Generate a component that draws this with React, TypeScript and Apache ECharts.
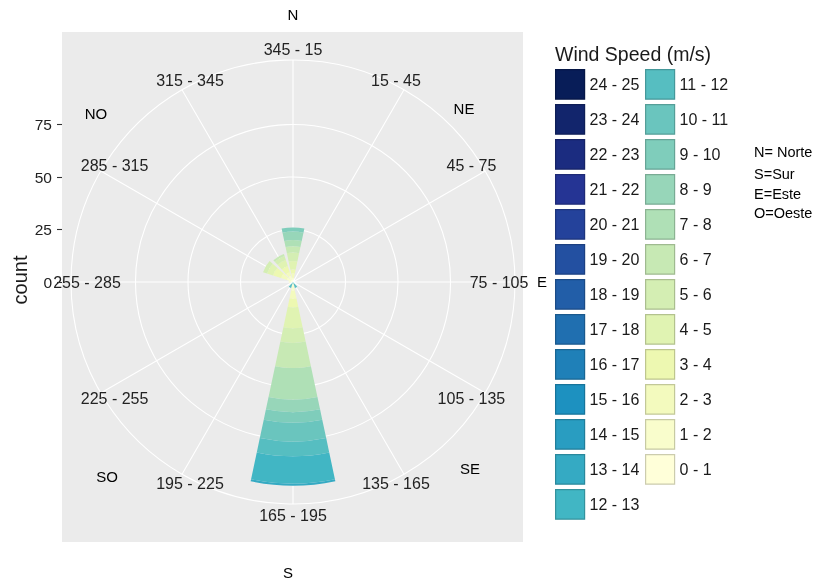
import React, { useEffect, useRef } from "react";
import * as echarts from "echarts";

// Direction sectors (theta categories), clockwise from North
const sectors = [
  "345 - 15", "15 - 45", "45 - 75", "75 - 105", "105 - 135", "135 - 165",
  "165 - 195", "195 - 225", "225 - 255", "255 - 285", "285 - 315", "315 - 345",
];

// Wind speed bins (m/s)
const speedBins = [
  "0 - 1", "1 - 2", "2 - 3", "3 - 4", "4 - 5", "5 - 6", "6 - 7", "7 - 8", "8 - 9",
  "9 - 10", "10 - 11", "11 - 12", "12 - 13", "13 - 14", "14 - 15", "15 - 16",
  "16 - 17", "17 - 18", "18 - 19", "19 - 20", "20 - 21", "21 - 22", "22 - 23",
  "23 - 24", "24 - 25",
];

// Counts per sector for each speed bin (order follows `sectors`)
const s0_1 = [1, 0, 0, 0, 0, 0, 1, 0, 0, 1, 1, 1];
const s1_2 = [1, 0, 0, 0, 0, 0, 3, 0, 0, 1, 2, 2];
const s2_3 = [2, 0, 0, 0, 0, 0, 4, 0, 0, 0, 3, 2];
const s3_4 = [2, 0, 0, 0, 0, 0, 4, 0, 0, 0, 4, 3];
const s4_5 = [4, 0, 0, 0, 0, 0, 10, 0, 0, 0, 3, 3];
const s5_6 = [4, 0, 0, 0, 0, 0, 7, 0, 0, 0, 2, 2];
const s6_7 = [3, 0, 0, 0, 0, 0, 12, 0, 0, 0, 0, 1];
const s7_8 = [3, 0, 0, 0, 0, 0, 15, 0, 0, 0, 0, 0];
const s8_9 = [4, 0, 0, 0, 0, 0, 6, 0, 0, 0, 0, 0];
const s9_10 = [2, 0, 0, 0, 0, 0, 5, 0, 0, 0, 0, 0];
const s10_11 = [0, 0, 0, 0, 0, 0, 9, 0, 0, 0, 0, 0];
const s11_12 = [0, 0, 0, 0, 0, 3, 7, 3, 0, 0, 0, 0];
const s12_13 = [0, 0, 0, 0, 0, 0, 13, 0, 0, 0, 0, 0];
const s13_14 = [0, 0, 0, 0, 0, 0, 1, 0, 0, 0, 0, 0];
const s14_15 = [0, 0, 0, 0, 0, 0, 0, 0, 0, 0, 0, 0];
const s15_16 = [0, 0, 0, 0, 0, 0, 0, 0, 0, 0, 0, 0];
const s16_17 = [0, 0, 0, 0, 0, 0, 0, 0, 0, 0, 0, 0];
const s17_18 = [0, 0, 0, 0, 0, 0, 0, 0, 0, 0, 0, 0];
const s18_19 = [0, 0, 0, 0, 0, 0, 0, 0, 0, 0, 0, 0];
const s19_20 = [0, 0, 0, 0, 0, 0, 0, 0, 0, 0, 0, 0];
const s20_21 = [0, 0, 0, 0, 0, 0, 0, 0, 0, 0, 0, 0];
const s21_22 = [0, 0, 0, 0, 0, 0, 0, 0, 0, 0, 0, 0];
const s22_23 = [0, 0, 0, 0, 0, 0, 0, 0, 0, 0, 0, 0];
const s23_24 = [0, 0, 0, 0, 0, 0, 0, 0, 0, 0, 0, 0];
const s24_25 = [0, 0, 0, 0, 0, 0, 0, 0, 0, 0, 0, 0];

const countsBySpeed = [
  s0_1, s1_2, s2_3, s3_4, s4_5, s5_6, s6_7, s7_8, s8_9, s9_10, s10_11, s11_12,
  s12_13, s13_14, s14_15, s15_16, s16_17, s17_18, s18_19, s19_20, s20_21,
  s21_22, s22_23, s23_24, s24_25,
];

// Radial axis ticks
const radialTicks = [0, 25, 50, 75];

// Legend notes
const notes = ["N= Norte", "S=Sur", "E=Este", "O=Oeste"];

// YlGnBu ramp, 25 steps
const palette = [
  "#FFFFD9", "#F9FDCC", "#F3FABE", "#EDF8B1", "#E0F3B2", "#D4EEB3", "#C7E9B4",
  "#AFE0B6", "#97D6B9", "#7FCDBB", "#6AC5BE", "#56BEC1", "#41B6C4", "#35AAC3",
  "#299DC1", "#1D91C0", "#1F80B8", "#206FB0", "#225EA8", "#2350A1", "#24429B",
  "#253494", "#1B2C80", "#12256C", "#081D58",
];

function shade(hex: string, f: number) {
  const n = parseInt(hex.slice(1), 16);
  const r = Math.round(((n >> 16) & 255) * f);
  const g = Math.round(((n >> 8) & 255) * f);
  const b = Math.round((n & 255) * f);
  return "rgb(" + r + "," + g + "," + b + ")";
}

const FONT = "'Liberation Sans', Arial, Helvetica, sans-serif";

export default function App() {
  const ref = useRef<HTMLDivElement>(null);

  useEffect(() => {
    if (!ref.current) return;
    const chart = echarts.init(ref.current, null, { renderer: "svg" });

    const CX = 293;
    const CY = 282;
    const PX = 2.1; // pixels per count
    const R_OUT = 222;
    const rMax = R_OUT / PX;
    const R_LAB = 250; // label polar, large enough to hold all theta labels
    const panelTop = 32;
    const panelBottom = 542;
    // theta labels sit on the (slightly elliptical) outer ring of the original
    const LAB_A = 206; // horizontal half-axis, px
    const LAB_B = 233; // vertical half-axis, px

    const barSeries = speedBins.map((name, i) => ({
      name,
      type: "bar",
      coordinateSystem: "polar",
      polarIndex: 0,
      stack: "total",
      barCategoryGap: "20%",
      z: 2,
      itemStyle: {
        color: palette[i],
        borderColor: shade(palette[i], 0.8),
        borderWidth: 0,
      },
      data: countsBySpeed[i].map((v) => (v === 0 ? "-" : v)),
    }));

    const labelSeries = {
      type: "scatter",
      coordinateSystem: "polar",
      polarIndex: 2,
      symbolSize: 1,
      silent: true,
      z: 2,
      itemStyle: { color: "rgba(0,0,0,0)", opacity: 1 },
      label: {
        show: true,
        position: "inside",
        formatter: "{b}",
        fontSize: 16,
        color: "#222222",
        opacity: 1,
        fontFamily: FONT,
      },
      data: sectors.map((name, i) => {
        const t = (i * 30 * Math.PI) / 180;
        const dx = LAB_A * Math.sin(t);
        const dy = LAB_B * Math.cos(t);
        let ang = (Math.atan2(dx, dy) * 180) / Math.PI;
        if (ang < 0) ang += 360;
        return { name, value: [Math.hypot(dx, dy) / PX, ang] };
      }),
    };

    const legendCommon = {
      orient: "vertical",
      top: 69,
      padding: 0,
      itemWidth: 29,
      itemHeight: 29.5,
      itemGap: 4.3,
      icon: "rect",
      selectedMode: false,
      itemStyle: { borderWidth: 1.2 },
      textStyle: { fontSize: 16, color: "#1a1a1a", fontFamily: FONT },
    };

    const compass = [
      { t: "N", x: 293, y: 14 },
      { t: "NE", x: 464, y: 108 },
      { t: "E", x: 542, y: 281 },
      { t: "SE", x: 470, y: 468 },
      { t: "S", x: 288, y: 572 },
      { t: "SO", x: 107, y: 476 },
      { t: "NO", x: 96, y: 113 },
    ];

    const hiddenAxis = {
      axisLine: { show: false },
      axisTick: { show: false },
      axisLabel: { show: false },
      splitLine: { show: false },
    };

    const option = {
      animation: false,
      textStyle: { fontFamily: FONT },
      grid: {
        left: 62,
        top: panelTop,
        width: 461,
        height: panelBottom - panelTop,
        show: true,
        backgroundColor: "#EBEBEB",
        borderWidth: 0,
        z: 0,
      },
      xAxis: { type: "value", show: false, min: 0, max: 1 },
      yAxis: {
        type: "value",
        z: 5,
        min: -(panelBottom - CY) / PX,
        max: (CY - panelTop) / PX,
        axisLine: { show: false, onZero: false },
        axisTick: {
          show: true,
          length: 5,
          customValues: radialTicks,
          lineStyle: { color: "#333", width: 1.1 },
        },
        axisLabel: {
          customValues: radialTicks,
          margin: 10,
          fontSize: 15.5,
          color: "#222222",
          fontFamily: FONT,
        },
        splitLine: { show: false },
      },
      polar: [
        { center: [CX, CY], radius: [0, R_OUT] },
        { center: [CX, CY], radius: [0, R_OUT] },
        { center: [CX, CY], radius: [0, R_LAB] },
      ],
      angleAxis: [
        {
          polarIndex: 0,
          type: "category",
          data: sectors,
          startAngle: 105,
          clockwise: true,
          z: 1,
          ...hiddenAxis,
        },
        {
          polarIndex: 1,
          type: "value",
          min: 0,
          max: 360,
          interval: 30,
          startAngle: 90,
          clockwise: true,
          z: 1,
          axisLine: { show: true, lineStyle: { color: "#FFFFFF", width: 1.1 } },
          axisTick: { show: false },
          axisLabel: { show: false },
          splitLine: { show: true, lineStyle: { color: "#FFFFFF", width: 1.1 } },
        },
        {
          polarIndex: 2,
          type: "value",
          min: 0,
          max: 360,
          startAngle: 90,
          clockwise: true,
          z: 1,
          ...hiddenAxis,
        },
      ],
      radiusAxis: [
        {
          polarIndex: 0,
          type: "value",
          min: 0,
          max: rMax,
          z: 1,
          ...hiddenAxis,
        },
        {
          polarIndex: 1,
          type: "value",
          min: 0,
          max: rMax,
          z: 1,
          axisLine: { show: false },
          axisTick: { show: false, customValues: radialTicks },
          axisLabel: { show: false },
          splitLine: { show: true, lineStyle: { color: "#FFFFFF", width: 1.1 } },
        },
        {
          polarIndex: 2,
          type: "value",
          min: 0,
          max: R_LAB / PX,
          z: 1,
          ...hiddenAxis,
        },
      ],
      legend: [
        {
          ...legendCommon,
          left: 555,
          data: speedBins.slice(12).reverse(),
        },
        {
          ...legendCommon,
          left: 645,
          data: speedBins.slice(0, 12).reverse(),
        },
      ],
      graphic: [
        {
          type: "text",
          z: 6,
          x: 555,
          y: 54,
          style: {
            text: "Wind Speed (m/s)",
            fontSize: 19.5,
            fontFamily: FONT,
            fill: "#1a1a1a",
            align: "left",
            verticalAlign: "middle",
          },
        },
        {
          type: "text",
          z: 6,
          x: 20,
          y: 280,
          rotation: Math.PI / 2,
          style: {
            text: "count",
            fontSize: 20,
            fontFamily: FONT,
            fill: "#1a1a1a",
            align: "center",
            verticalAlign: "middle",
          },
        },
        ...compass.map((c) => ({
          type: "text",
          z: 6,
          x: c.x,
          y: c.y,
          style: {
            text: c.t,
            fontSize: 15,
            fontFamily: FONT,
            fill: "#000000",
            align: "center",
            verticalAlign: "middle",
          },
        })),
        ...notes.map((t, i) => ({
          type: "text",
          z: 6,
          x: 754,
          y: [152, 174, 194, 213][i],
          style: {
            text: t,
            fontSize: 14.5,
            fontFamily: FONT,
            fill: "#000000",
            align: "left",
            verticalAlign: "middle",
          },
        })),
      ],
      series: [...barSeries, labelSeries],
    };

    chart.setOption(option as any);
    return () => chart.dispose();
  }, []);

  return (
    <div
      ref={ref}
      style={{ position: "fixed", left: 0, top: 0, width: 818, height: 579 }}
    />
  );
}
